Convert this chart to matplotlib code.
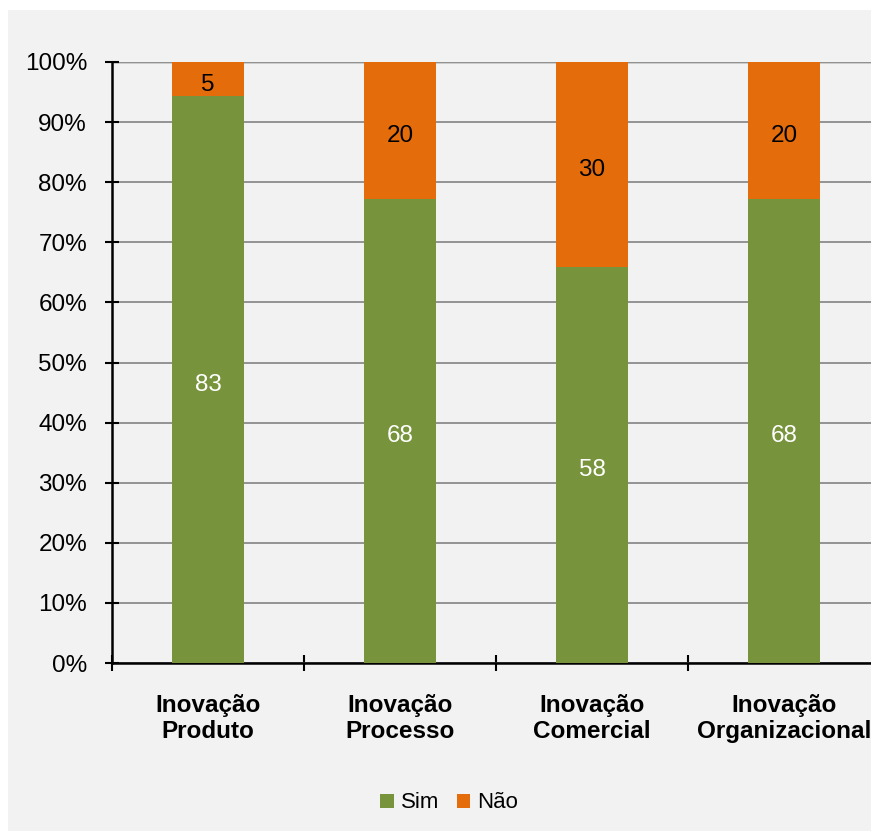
import numpy as np
import matplotlib.pyplot as plt
from matplotlib.patches import Rectangle
from matplotlib.ticker import PercentFormatter
from matplotlib.transforms import offset_copy

plt.rcParams['font.family'] = ['Liberation Sans', 'DejaVu Sans']

categories = ["Inovação\nProduto", "Inovação\nProcesso", "Inovação\nComercial", "Inovação\nOrganizacional"]
sim = [83, 68, 58, 68]
nao = [5, 20, 30, 20]

green = '#77933c'
orange = '#e46c0a'
bg = '#f2f2f2'

sim = np.array(sim, dtype=float)
nao = np.array(nao, dtype=float)
total = sim + nao
sim_pct = sim / total * 100
nao_pct = nao / total * 100

fig = plt.figure(figsize=(8.71, 8.31), dpi=100, facecolor='white')
fig.patches.append(Rectangle((8/871, 0), 1, 1 - 10/831, transform=fig.transFigure,
                             facecolor=bg, edgecolor='none', zorder=-10))

# plot area (right edge runs past the figure like the original)
ax = fig.add_axes([112/871, 1 - 663/831, 768/871, 601/831])
ax.set_facecolor(bg)

x = np.arange(len(categories))
w = 0.38
ax.bar(x, sim_pct, w, color=green, label='Sim', zorder=3)
ax.bar(x, nao_pct, w, bottom=sim_pct, color=orange, label='Não', zorder=3)

# labels sit a little below the segment centre
lbl_tr = offset_copy(ax.transData, fig=fig, x=0, y=-3, units='dots')
for i in range(len(x)):
    ax.text(x[i], sim_pct[i] / 2, f"{int(sim[i])}", ha='center', va='center_baseline',
            color='white', fontsize=17.5, zorder=4, transform=lbl_tr)
    ax.text(x[i], sim_pct[i] + nao_pct[i] / 2, f"{int(nao[i])}", ha='center', va='center_baseline',
            color='black', fontsize=17.5, zorder=4, transform=lbl_tr)

ax.set_xlim(-0.5, len(x) - 0.5)
ax.set_ylim(0, 100)
ax.set_yticks(np.arange(0, 101, 10))
ax.yaxis.set_major_formatter(PercentFormatter(decimals=0))
ax.tick_params(axis='y', direction='inout', length=10, width=1.5, labelsize=17.5, pad=13)

ax.set_xticks(np.arange(-0.5, len(x), 1.0))
ax.set_xticklabels([])
ax.set_xticks(x, minor=True)
ax.set_xticklabels(categories, minor=True, fontsize=17.5, fontweight='bold', linespacing=1.2)
ax.tick_params(axis='x', which='minor', length=0, pad=22)
ax.tick_params(axis='x', which='major', direction='inout', length=12, width=1.5)

ax.grid(axis='y', color='#8c8c8c', linewidth=1.3, zorder=0)
for s in ['top', 'right']:
    ax.spines[s].set_visible(False)
ax.spines['left'].set_linewidth(1.8)
ax.spines['bottom'].set_linewidth(1.8)
ax.axhline(100, color='#c8c8c8', linewidth=2, zorder=1)

fig.legend(loc='center', bbox_to_anchor=(449/871, 1 - 803/831), ncol=2, frameon=False,
           fontsize=16, handlelength=0.6, handleheight=0.6, handletextpad=0.3,
           columnspacing=0.8)

fig.savefig('out.png', dpi=100, facecolor=fig.get_facecolor())
